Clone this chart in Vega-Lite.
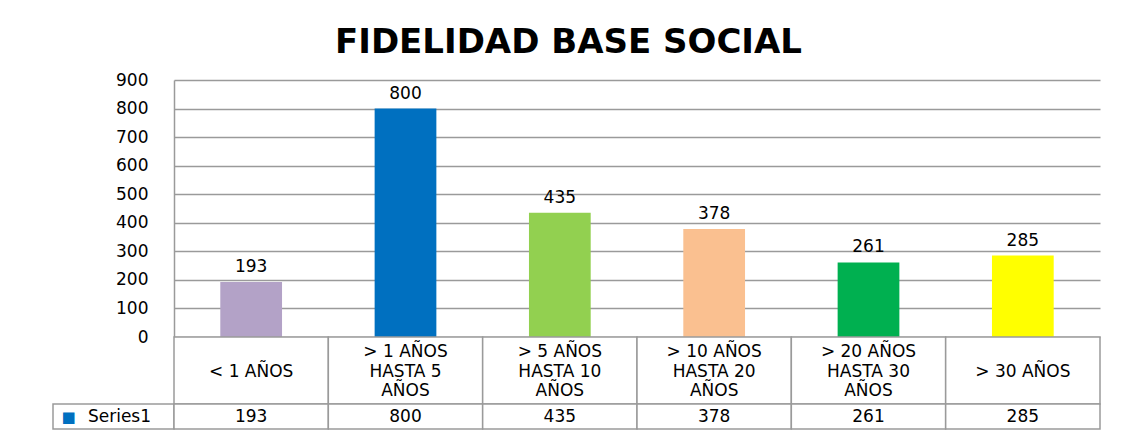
{
  "$schema": "https://vega.github.io/schema/vega-lite/v6.json",
  "background": "white",
  "padding": {"left": 52, "top": 26, "right": 27, "bottom": 2},
  "title": {"text": "FIDELIDAD BASE SOCIAL", "font": "DejaVu Sans", "fontSize": 34, "fontWeight": "bold", "color": "black", "anchor": "middle", "offset": 11, "dx": -8},
  "config": {"font": "DejaVu Sans", "view": {"stroke": null}},
  "datasets": {
    "d": [
      {"cat": "< 1 AÑOS", "value": 193},
      {"cat": "> 1  AÑOS\nHASTA 5\nAÑOS", "value": 800},
      {"cat": "> 5 AÑOS\nHASTA 10\nAÑOS", "value": 435},
      {"cat": "> 10 AÑOS\nHASTA 20\nAÑOS", "value": 378},
      {"cat": "> 20 AÑOS\nHASTA 30\nAÑOS", "value": 261},
      {"cat": "> 30 AÑOS", "value": 285}
    ]
  },
  "columns": 2,
  "spacing": 0,
  "bounds": "flush",
  "concat": [
    {
      "width": 121, "height": 257,
      "data": {"values": [{}]},
      "mark": {"type": "text"},
      "encoding": {"text": {"value": ""}}
    },
    {
      "width": 926, "height": 257,
      "data": {"name": "d"},
      "encoding": {
        "x": {"field": "cat", "type": "nominal", "sort": null, "axis": null,
              "scale": {"paddingInner": 0.6, "paddingOuter": 0.3}},
        "y": {"field": "value", "type": "quantitative",
              "scale": {"domain": [0, 900], "nice": false},
              "axis": {"title": null, "values": [0,100,200,300,400,500,600,700,800,900],
                       "grid": true, "gridColor": "#9a9a9a", "gridWidth": 1.5,
                       "domain": true, "domainColor": "#9a9a9a", "domainWidth": 1.5,
                       "ticks": false, "labelPadding": 26, "labelFontSize": 17,
                       "labelColor": "black", "labelFont": "DejaVu Sans"}}
      },
      "layer": [
        {
          "mark": {"type": "bar"},
          "encoding": {
            "color": {"field": "cat", "type": "nominal", "sort": null, "legend": null,
                      "scale": {"range": ["#B3A2C7", "#0070C0", "#92D050", "#FAC090", "#00B050", "#FFFF00"]}}
          }
        },
        {
          "mark": {"type": "text", "baseline": "bottom", "dy": -6, "fontSize": 17, "color": "black"},
          "encoding": {"text": {"field": "value", "type": "quantitative"}}
        }
      ]
    },
    {
      "width": 121, "height": 67,
      "data": {"values": [{}]},
      "mark": {"type": "text"},
      "encoding": {"text": {"value": ""}}
    },
    {
      "width": 926, "height": 67,
      "data": {"name": "d"},
      "encoding": {
        "x": {"field": "cat", "type": "nominal", "sort": null, "axis": null,
              "scale": {"paddingInner": 0, "paddingOuter": 0}}
      },
      "layer": [
        {"mark": {"type": "rect", "fill": "white", "stroke": "#9a9a9a", "strokeWidth": 1.5}},
        {
          "transform": [{"filter": "indexof(datum.cat, '\\n') < 0"}],
          "mark": {"type": "text", "fontSize": 17, "color": "black", "baseline": "middle", "dy": 1},
          "encoding": {"text": {"field": "cat", "type": "nominal"}}
        },
        {
          "transform": [{"filter": "indexof(datum.cat, '\\n') >= 0"}],
          "mark": {"type": "text", "lineBreak": "\n", "fontSize": 17, "lineHeight": 19.5, "color": "black", "baseline": "middle", "dy": -18.5},
          "encoding": {"text": {"field": "cat", "type": "nominal"}}
        }
      ]
    },
    {
      "width": 121, "height": 25,
      "view": {"stroke": "#9a9a9a", "strokeWidth": 1.5},
      "data": {"values": [{"s": "Series1"}]},
      "layer": [
        {"mark": {"type": "text", "fontSize": 17, "color": "black", "dx": 6, "baseline": "middle"},
         "encoding": {"text": {"field": "s", "type": "nominal"}}},
        {"mark": {"type": "text", "fontSize": 15, "color": "#0070C0", "dx": -45, "baseline": "middle"},
         "encoding": {"text": {"value": "■"}}}
      ]
    },
    {
      "width": 926, "height": 25,
      "data": {"name": "d"},
      "encoding": {
        "x": {"field": "cat", "type": "nominal", "sort": null, "axis": null,
              "scale": {"paddingInner": 0, "paddingOuter": 0}}
      },
      "layer": [
        {"mark": {"type": "rect", "fill": "white", "stroke": "#9a9a9a", "strokeWidth": 1.5}},
        {
          "mark": {"type": "text", "fontSize": 17, "color": "black", "baseline": "middle"},
          "encoding": {"text": {"field": "value", "type": "quantitative"}}
        }
      ]
    }
  ]
}
